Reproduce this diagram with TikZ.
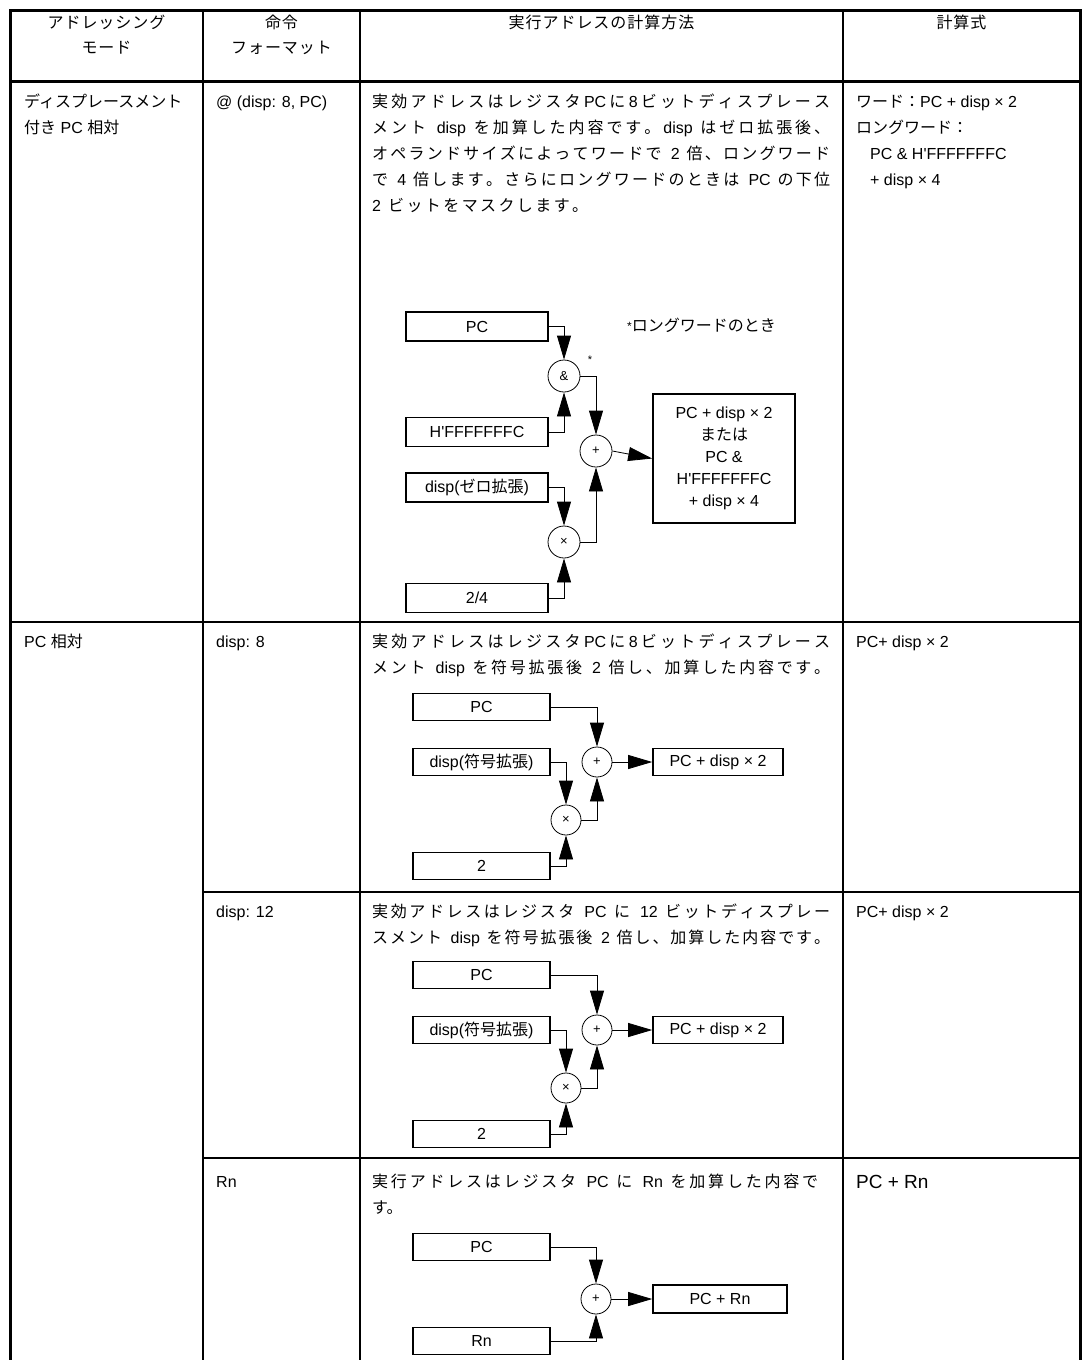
\documentclass[tikz,border=0pt]{standalone}
\usepackage{fontspec}
\setmainfont{Liberation Sans}
\newfontfamily\jpf{Noto Sans CJK JP}
\newfontfamily\jph[LetterSpace=6]{Noto Sans CJK JP}
\newcommand\J[1]{{\jpf #1}}
\newcommand\g{\hskip0pt plus 2pt\relax}
\makeatletter
\def\JS@end{\JS@end}
\def\JS#1{{\jpf\JS@a#1\JS@end}}
\def\JS@a#1{\ifx\JS@end#1\else#1\hskip0pt plus 2pt\relax\expandafter\JS@a\fi}
\makeatother
\newcommand\ap{\textquotesingle}
\usetikzlibrary{arrows.meta}
\begin{document}
\begin{tikzpicture}[x=1pt,y=-1pt,
  txt/.style={anchor=base west, inner sep=0pt, font=\fontsize{16}{20}\selectfont},
  hd/.style={anchor=base, inner sep=0pt, font=\fontsize{16}{20}\selectfont},
  regA/.style={draw, line width=1.6pt, minimum width=142pt, minimum height=29pt, inner sep=0pt, font=\fontsize{16}{19}\selectfont},
  regB/.style={draw, line width=1.6pt, minimum width=137pt, minimum height=27pt, inner sep=0pt, font=\fontsize{16}{19}\selectfont},
  res/.style={draw, line width=1.6pt, inner sep=0pt, font=\fontsize{16}{19}\selectfont},
  op/.style={draw, circle, line width=0.8pt, minimum size=32pt, inner sep=0pt, font=\fontsize{13}{14}\selectfont},
  arr/.style={line width=0.8pt, -{Triangle[length=24pt,width=14pt]}},
  tblO/.style={line width=3pt},
  tblI/.style={line width=2pt}]
\useasboundingbox (0,0) rectangle (1082,1360);
% table
\draw[tblO] (10,1360) -- (10,10) -- (1080.5,10) -- (1080.5,1360);
\draw[tblO] (10,81) -- (1080.5,81);
\draw[tblI] (10,622) -- (1080.5,622);
\draw[tblI] (203,892) -- (1080.5,892);
\draw[tblI] (203,1158) -- (1080.5,1158);
\draw[tblI] (203,10) -- (203,1360);
\draw[tblI] (360,10) -- (360,1360);
\draw[tblI] (843,10) -- (843,1360);
% header
\node[hd] (h1a) at (106.5,28) {\jph アドレッシング};
\node[hd] (h1b) at (106.5,53) {\jph モード};
\node[hd] (h2a) at (281.5,28) {\jph 命令};
\node[hd] (h2b) at (281.5,53) {\jph フォーマット};
\node[hd] (h3) at (601.5,28) {\jph 実行アドレスの計算方法};
\node[hd] (h4) at (961.5,28) {\jph 計算式};
% row 1
\node[txt] (a1) at (24,107) {\J{ディスプレースメント}};
\node[txt] (a2) at (24,133) {\J{付き} PC \J{相対}};
\node[txt] (b1) at (216,107) {@ (disp: 8, PC)};
\node[txt] (c11) at (372,107) {\hbox to 458pt{\JS{実効アドレスはレジスタ}PC\g\JS{に}8\g\JS{ビットディスプレース}\unskip}};
\node[txt] (c12) at (372,133) {\hbox to 458pt{\JS{メント} disp \JS{を加算した内容です。}disp \JS{はゼロ拡張後、}\unskip}};
\node[txt] (c13) at (372,159) {\hbox to 458pt{\JS{オペランドサイズによってワードで} 2 \JS{倍、ロングワード}\unskip}};
\node[txt] (c14) at (372,185) {\hbox to 458pt{\JS{で} 4 \JS{倍します。さらにロングワードのときは} PC \JS{の下位}\unskip}};
\node[txt] (c15) at (372,211) {\hbox to 216pt{2 \JS{ビットをマスクします。}\unskip}};
\node[txt] (d11) at (856,107) {\J{ワード：}PC + disp × 2};
\node[txt] (d12) at (856,133) {\J{ロングワード：}};
\node[txt] (d13) at (870,159) {PC \& H\ap FFFFFFFC};
\node[txt] (d14) at (870,185) {+ disp × 4};
% diagram 1
\node[regA] (pc1) at (477,326.5) {PC};
\node[regA] (hf1) at (477,432) {H\ap FFFFFFFC};
\node[regA] (dz1) at (477,487.5) {disp(\J{ゼロ拡張})};
\node[regA] (c241) at (477,598) {2/4};
\node[op] (and1) at (564,376) {\&};
\node[op] (add1) at (596,451) {+};
\node[op] (mul1) at (564,542) {×};
\node[res, minimum width=142pt, minimum height=129pt, align=center, font=\fontsize{16}{22}\selectfont] (r1) at (724,458.5) {PC + disp × 2\\\J{または}\\PC \&\\H\ap FFFFFFFC\\+ disp × 4};
\node[anchor=west, inner sep=0pt, font=\fontsize{16}{18}\selectfont] (note1) at (627,325) {\raisebox{1pt}{\fontsize{12}{12}\selectfont *}\J{ロングワードのとき}};
\node[inner sep=0pt, font=\fontsize{11}{11}\selectfont] (ast1) at (590,360) {*};
\draw[arr] (pc1.east) -| (and1.north);
\draw[arr] (hf1.east) -| (and1.south);
\draw[arr] (and1.east) -| (add1.north);
\draw[arr] (dz1.east) -| (mul1.north);
\draw[arr] (c241.east) -| (mul1.south);
\draw[arr] (mul1.east) -| (add1.south);
\draw[arr] (add1.east) -- (r1.west);
% row 2
\node[txt] (a3) at (24,647) {PC \J{相対}};
\node[txt] (b2) at (216,647) {disp: 8};
\node[txt] (c21) at (372,647) {\hbox to 458pt{\JS{実効アドレスはレジスタ}PC\g\JS{に}8\g\JS{ビットディスプレース}\unskip}};
\node[txt] (c22t) at (372,673) {\hbox to 458pt{\JS{メント} disp \JS{を符号拡張後} 2 \JS{倍し、加算した内容です。}\unskip}};
\node[txt] (d2) at (856,647) {PC+ disp × 2};
\node[regB] (pc2) at (481.5,707) {PC};
\node[regB] (ds2) at (481.5,762) {disp(\J{符号拡張})};
\node[regB] (two2) at (481.5,866) {2};
\node[op, minimum size=30pt] (add2) at (597,762) {+};
\node[op, minimum size=30pt] (mul2) at (566,820) {×};
\node[res, minimum width=130pt, minimum height=27pt] (r2) at (718,762) {PC + disp × 2};
\draw[arr] (pc2.east) -| (add2.north);
\draw[arr] (ds2.east) -| (mul2.north);
\draw[arr] (two2.east) -| (mul2.south);
\draw[arr] (mul2.east) -| (add2.south);
\draw[arr] (add2.east) -- (r2.west);
% row 3
\node[txt] (b3) at (216,917) {disp: 12};
\node[txt] (c31) at (372,917) {\hbox to 458pt{\JS{実効アドレスはレジスタ} PC \JS{に} 12 \JS{ビットディスプレー}\unskip}};
\node[txt] (c32) at (372,943) {\hbox to 458pt{\JS{スメント} disp \JS{を符号拡張後} 2 \JS{倍し、加算した内容です。}\unskip}};
\node[txt] (d3) at (856,917) {PC+ disp × 2};
\node[regB] (pc3) at (481.5,975) {PC};
\node[regB] (ds3) at (481.5,1030) {disp(\J{符号拡張})};
\node[regB] (two3) at (481.5,1134) {2};
\node[op, minimum size=30pt] (add3) at (597,1030) {+};
\node[op, minimum size=30pt] (mul3) at (566,1088) {×};
\node[res, minimum width=130pt, minimum height=27pt] (r3) at (718,1030) {PC + disp × 2};
\draw[arr] (pc3.east) -| (add3.north);
\draw[arr] (ds3.east) -| (mul3.north);
\draw[arr] (two3.east) -| (mul3.south);
\draw[arr] (mul3.east) -| (add3.south);
\draw[arr] (add3.east) -- (r3.west);
% row 4
\node[txt] (b4) at (216,1187) {Rn};
\node[txt] (c41) at (372,1187) {\hbox to 446pt{\JS{実行アドレスはレジスタ} PC \JS{に} Rn \JS{を加算した内容で}\unskip}};
\node[txt] (c42) at (372,1213) {\J{す。}};
\node[txt, font=\fontsize{19}{22}\selectfont] (d4) at (856,1188) {PC + Rn};
\node[regB] (pc4) at (481.5,1247) {PC};
\node[regB] (rn4) at (481.5,1341) {Rn};
\node[op, minimum size=30pt] (add4) at (596,1299) {+};
\node[res, minimum width=134pt, minimum height=28pt] (r4) at (720,1299) {PC + Rn};
\draw[arr] (pc4.east) -| (add4.north);
\draw[arr] (rn4.east) -| (add4.south);
\draw[arr] (add4.east) -- (r4.west);
\end{tikzpicture}
\end{document}
